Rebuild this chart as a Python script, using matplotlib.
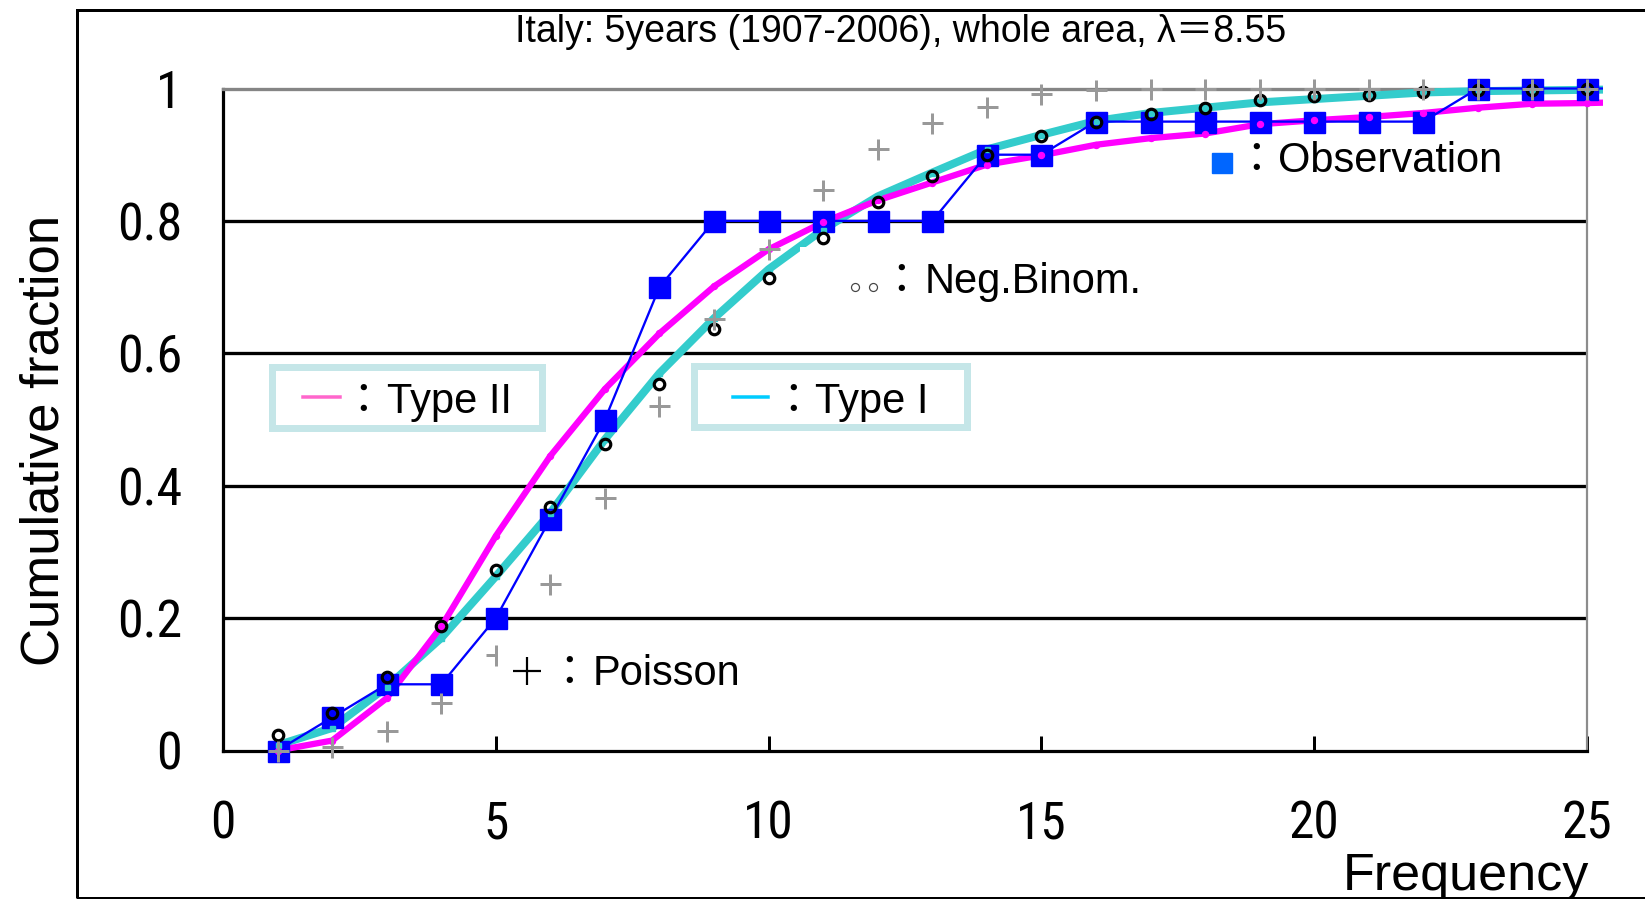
import matplotlib
matplotlib.use("Agg")
import matplotlib.pyplot as plt
from matplotlib.patches import Rectangle
from matplotlib.lines import Line2D
from matplotlib.transforms import Bbox, TransformedBbox

W, H, DPI = 1645, 899, 100

# ---- data -------------------------------------------------------------
freq = list(range(1, 27))
observation = [0.00, 0.05, 0.10, 0.10, 0.20, 0.35, 0.50, 0.70, 0.80, 0.80,
               0.80, 0.80, 0.80, 0.90, 0.90, 0.95, 0.95, 0.95, 0.95, 0.95,
               0.95, 0.95, 1.00, 1.00, 1.00, 1.00]
type1 = [0.008, 0.034, 0.096, 0.170, 0.263, 0.359, 0.470, 0.570, 0.653, 0.727,
         0.787, 0.837, 0.873, 0.908, 0.930, 0.951, 0.963, 0.971, 0.979, 0.984,
         0.989, 0.994, 0.996, 0.997, 0.998, 0.999]
type2 = [0.000, 0.015, 0.079, 0.187, 0.324, 0.445, 0.546, 0.630, 0.701, 0.757,
         0.798, 0.831, 0.858, 0.885, 0.899, 0.915, 0.925, 0.932, 0.946, 0.952,
         0.957, 0.963, 0.971, 0.977, 0.978, 0.980]
negbinom = [0.023, 0.056, 0.111, 0.188, 0.272, 0.368, 0.463, 0.554, 0.636, 0.714,
            0.774, 0.828, 0.868, 0.900, 0.929, 0.949, 0.962, 0.971, 0.982, 0.988,
            0.990, 0.994, 0.997, 0.998, 0.999, 1.000]
poisson = [0.000, 0.005, 0.030, 0.071, 0.144, 0.251, 0.381, 0.520, 0.652, 0.758,
           0.847, 0.908, 0.948, 0.972, 0.991, 0.997, 1.000, 1.000, 1.000, 1.000,
           1.000, 1.000, 1.000, 1.000, 1.000, 1.000]

xticks = [0, 5, 10, 15, 20, 25]
xtick_labels = ["0", "5", "10", "15", "20", "25"]
yticks = [0, 0.2, 0.4, 0.6, 0.8, 1]
ytick_labels = ["0", "0.2", "0.4", "0.6", "0.8", "1"]

title = "Italy: 5years (1907-2006), whole area, \u03bb\uff1d8.55"

SANS = ["Liberation Sans", "Noto Sans CJK JP", "DejaVu Sans"]
NARROW = ["Roboto Condensed", "Liberation Sans", "DejaVu Sans"]
CJK = ["Noto Sans CJK JP", "DejaVu Sans"]


def pt(p):
    """pixels -> points"""
    return p * 72.0 / DPI


def fx(x):
    return x / W


def fy(y):
    return 1.0 - y / H


fig = plt.figure(figsize=(W / DPI, H / DPI), dpi=DPI)

# outer chart frame (right edge runs off the canvas)
fig.add_artist(Rectangle((fx(77), fy(898)), fx(1700) - fx(77), fy(9.5) - fy(898),
                         transform=fig.transFigure, fill=False,
                         edgecolor="black", linewidth=pt(3), zorder=0.5))

# ---- plot area ---------------------------------------------------------
L, R, T, B = 223, 1587, 88.5, 750.5
ax = fig.add_axes([fx(L), fy(B), fx(R) - fx(L), fy(T) - fy(B)])
ax.set_xlim(0, 25)
ax.set_ylim(0, 1)
ax.patch.set_facecolor("white")

for s in ("left", "bottom"):
    ax.spines[s].set_color("black")
    ax.spines[s].set_linewidth(pt(3.2))
ax.spines["top"].set_color("#858585")
ax.spines["top"].set_linewidth(pt(3.3))
ax.spines["right"].set_color("#8c8c8c")
ax.spines["right"].set_linewidth(pt(2.2))

for y in yticks[1:-1]:
    ax.axhline(y, color="black", linewidth=pt(3.3), zorder=1)

ax.set_xticks(xticks)
ax.set_xticklabels(xtick_labels, fontsize=37, family=NARROW)
ax.set_yticks(yticks)
ax.set_yticklabels(ytick_labels, fontsize=37.5, family=NARROW)
ax.tick_params(axis="both", direction="in", length=pt(15), width=pt(3),
               color="black")
ax.tick_params(axis="x", pad=pt(49))
ax.tick_params(axis="y", pad=pt(41))

clip = TransformedBbox(Bbox([[0, -0.2], [25.3, 1.2]]), ax.transData)


def clipped(lines):
    for ln in lines:
        ln.set_clip_box(clip)


clipped(ax.plot(freq, type1, color="#33CCCC", linewidth=pt(8),
                solid_joinstyle="round", zorder=3))
clipped(ax.plot(freq, type2, color="#FF00FF", linewidth=pt(6.3),
                solid_joinstyle="round", zorder=3.1))
clipped(ax.plot(freq, observation, color="#0000FF", linewidth=pt(2.3),
                zorder=3.2))
clipped(ax.plot(freq, observation, linestyle="none", marker="s",
                markersize=pt(21), color="#0000FF", zorder=3.3))
clipped(ax.plot(freq, type1, linestyle="none", marker="s",
                markersize=pt(5), color="#33CCCC", zorder=3.4))
clipped(ax.plot(freq, type2, linestyle="none", marker="o",
                markersize=pt(6), color="#FF00FF", zorder=3.5))
clipped(ax.plot(freq, negbinom, linestyle="none", marker="o",
                markersize=pt(10.5), markerfacecolor="none",
                markeredgecolor="black", markeredgewidth=pt(3.2), zorder=3.6))
clipped(ax.plot(freq, poisson, linestyle="none", marker="+",
                markersize=pt(21), markeredgewidth=pt(3), color="#999999",
                zorder=3.7))

# ---- titles ------------------------------------------------------------
fig.text(fx(515), fy(42), title, ha="left", va="baseline", fontsize=27,
         family=SANS)
fig.text(fx(45), fy(440.6), "Cumulative fraction", rotation=90, ha="center",
         va="center", fontsize=38, family=SANS)
fig.text(fx(1589), fy(889.6), "Frequency", ha="right", va="baseline",
         fontsize=37.5, family=SANS)


# ---- in-plot keys ------------------------------------------------------
def box(x0, y0, x1, y1, edge=None, lw=0.0):
    fig.add_artist(Rectangle((fx(x0), fy(y1)), fx(x1) - fx(x0), fy(y0) - fy(y1),
                             transform=fig.transFigure, facecolor="white",
                             edgecolor=edge if edge else "none",
                             linewidth=pt(lw), zorder=1))


def key_text(xc, xt, base, label):
    fig.text(fx(xc), fy(base), "\uff1a", ha="center", va="baseline",
             fontsize=30, family=CJK, zorder=3)
    fig.text(fx(xt), fy(base), label, ha="left", va="baseline", fontsize=30,
             family=SANS, zorder=3)


def mark(x, y, **kw):
    fig.add_artist(Line2D([fx(x)], [fy(y)], transform=fig.transFigure,
                          linestyle="none", zorder=2, **kw))


# Type II
box(271.5, 366.5, 541.5, 427.5, edge="#C5E6E8", lw=7)
fig.add_artist(Line2D([fx(303), fx(340)], [fy(397), fy(397)],
                      transform=fig.transFigure, color="#FF66CC",
                      linewidth=pt(3.5), zorder=2))
key_text(363, 387, 413, "Type II")

# Type I
box(693.5, 366.2, 966.5, 427.2, edge="#C5E6E8", lw=7)
fig.add_artist(Line2D([fx(733), fx(768)], [fy(397), fy(397)],
                      transform=fig.transFigure, color="#00CCFF",
                      linewidth=pt(3.5), zorder=2))
key_text(793, 815, 413.3, "Type I")

# Neg.Binom.
box(800, 247, 1150, 318)
mark(855, 286.7, marker="o", markersize=pt(8), markerfacecolor="white",
     markeredgecolor="#444444", markeredgewidth=pt(1.2))
mark(873, 286.7, marker="o", markersize=pt(8), markerfacecolor="white",
     markeredgecolor="#444444", markeredgewidth=pt(1.2))
key_text(900.7, 925, 293.3, "Neg.Binom.")

# Poisson
box(498, 632, 750, 700)
mark(527, 671, marker="+", markersize=pt(28), markeredgewidth=pt(2.2),
     color="black")
key_text(569, 593, 685, "Poisson")

# Observation
mark(1222, 163, marker="s", markersize=pt(20), color="#0066FF")
key_text(1256, 1278, 172, "Observation")

fig.savefig("out.png", dpi=DPI)
